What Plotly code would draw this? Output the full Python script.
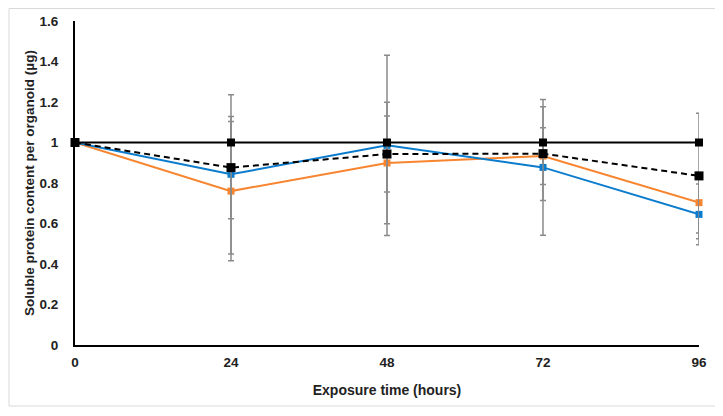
import plotly.graph_objects as go

hours = [0, 24, 48, 72, 96]

control = [1, 1, 1, 1, 1]
dashed_vals = [1, 0.876, 0.943, 0.945, 0.835]
dashed_err = [0, 0.253, 0.188, 0.232, 0.31]
blue_vals = [1, 0.843, 0.986, 0.877, 0.645]
blue_err = [0, 0.393, 0.445, 0.335, 0.15]
orange_vals = [1, 0.760, 0.899, 0.933, 0.703]
orange_err = [0, 0.344, 0.30, 0.14, 0.15]

y_ticks = [0, 0.2, 0.4, 0.6, 0.8, 1, 1.2, 1.4, 1.6]
y_tick_labels = ["0", "0.2", "0.4", "0.6", "0.8", "1", "1.2", "1.4", "1.6"]
x_tick_labels = ["0", "24", "48", "72", "96"]

ERR_COLOR = "#8a8a8a"
BLUE = "#0b7ccd"
ORANGE = "#f7852f"

fig = go.Figure()

def err(vals):
    return dict(type="data", array=vals, visible=True, color=ERR_COLOR, thickness=1.5, width=3)

fig.add_trace(go.Scatter(
    x=hours, y=orange_vals, mode="lines+markers",
    line=dict(color=ORANGE, width=2),
    marker=dict(symbol="square", size=7, color=ORANGE),
    error_y=err(orange_err), cliponaxis=False, showlegend=False))

fig.add_trace(go.Scatter(
    x=hours, y=blue_vals, mode="lines+markers",
    line=dict(color=BLUE, width=2),
    marker=dict(symbol="square", size=7, color=BLUE),
    error_y=err(blue_err), cliponaxis=False, showlegend=False))

fig.add_trace(go.Scatter(
    x=hours, y=dashed_vals, mode="lines+markers",
    line=dict(color="black", width=2, dash="6px,4px"),
    marker=dict(symbol="square", size=9, color="black"),
    error_y=err(dashed_err), cliponaxis=False, showlegend=False))

fig.add_trace(go.Scatter(
    x=hours, y=control, mode="lines+markers",
    line=dict(color="black", width=2),
    marker=dict(symbol="square", size=8, color="black"),
    cliponaxis=False, showlegend=False))

FAM = "Liberation Sans, Arial, sans-serif"
TXT = "#222222"

fig.update_layout(
    width=723, height=416,
    margin=dict(l=67, r=32, t=13, b=79),
    paper_bgcolor="white", plot_bgcolor="white",
    font=dict(family=FAM, size=13, color=TXT),
    showlegend=False,
    xaxis=dict(
        range=[0, 96], tickvals=hours, ticktext=x_tick_labels,
        showgrid=False, zeroline=False, showline=True, linecolor="black", linewidth=2,
        ticks="", ticklabelstandoff=4, automargin=False,
        tickfont=dict(size=13.5, weight="bold", family=FAM, color=TXT),
        title=dict(text="<b>Exposure time (hours)</b>", font=dict(size=14), standoff=16),
    ),
    yaxis=dict(
        range=[0, 1.6], tickvals=y_ticks, ticktext=y_tick_labels,
        showgrid=False, zeroline=False, showline=True, linecolor="black", linewidth=2,
        ticks="", ticklabelstandoff=12, automargin=False,
        tickfont=dict(size=13.5, weight="bold", family=FAM, color=TXT),
        title=dict(text="<b>Soluble protein content per organoid (µg)</b>", font=dict(size=13.5), standoff=2),
    ),
    shapes=[dict(
        type="rect", xref="paper", yref="paper",
        x0=(-66) / 624, x1=(708 - 67) / 624,
        y0=(337 - 398) / 324, y1=(337 - 0.5) / 324,
        line=dict(color="#d9d9d9", width=1), fillcolor="rgba(0,0,0,0)", layer="below")],
)

fig.write_html("out.html")
